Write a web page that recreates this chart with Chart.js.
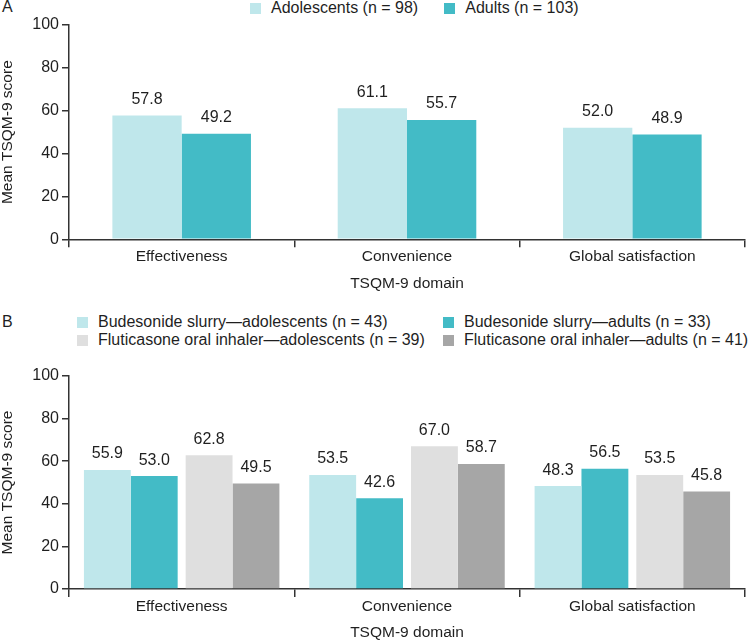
<!DOCTYPE html>
<html>
<head>
<meta charset="utf-8">
<script src="https://cdn.jsdelivr.net/npm/chart.js@4.4.1/dist/chart.umd.min.js"></script>
<style>
  html, body { margin: 0; padding: 0; background: #fff; overflow: hidden; }
  body { width: 749px; height: 640px; position: relative; font-family: "Liberation Sans", Arial, sans-serif; color: #1f1f1f; }
  canvas { position: absolute; left: 0; }
  #chartA { top: 0; }
  #chartB { top: 300px; }
  .panel-tag { position: absolute; left: 2px; font-size: 16px; line-height: 18px; }
  .legend { position: absolute; font-size: 16px; line-height: 18.3px; }
  .legend .item { display: flex; align-items: center; white-space: nowrap; }
  .legend .box { width: 11px; height: 11px; margin-right: 10px; flex: none; }
  #legendA { top: -1px; left: 250px; display: flex; gap: 26px; }
  #legendB { top: 313px; left: 77px; display: grid; grid-template-columns: 366px auto; }
</style>
</head>
<body>
<div class="panel-tag" style="top:-2px">A</div>
<div class="panel-tag" style="top:313px">B</div>
<div id="legendA" class="legend"></div>
<div id="legendB" class="legend"></div>
<canvas id="chartA" width="749" height="300"></canvas>
<canvas id="chartB" width="749" height="340"></canvas>
<script>
// data
const categories = ['Effectiveness', 'Convenience', 'Global satisfaction'];

const labelsA = ['Adolescents (n = 98)', 'Adults (n = 103)'];
const adolescents = [57.8, 61.1, 52.0];
const adults = [49.2, 55.7, 48.9];

const labelsB = [
  'Budesonide slurry—adolescents (n = 43)',
  'Budesonide slurry—adults (n = 33)',
  'Fluticasone oral inhaler—adolescents (n = 39)',
  'Fluticasone oral inhaler—adults (n = 41)'
];
const budesonideAdolescents = [55.9, 53.5, 48.3];
const budesonideAdults = [53.0, 42.6, 56.5];
const fluticasoneAdolescents = [62.8, 67.0, 53.5];
const fluticasoneAdults = [49.5, 58.7, 45.8];

const yMin = 0, yMax = 100, yStep = 20;
const xTitle = 'TSQM-9 domain';
const yTitle = 'Mean TSQM-9 score';

// styling
const FONT = '"Liberation Sans", Arial, sans-serif';
const TEXT = '#1f1f1f';
const AXIS = '#333333';
const colors = {
  lightTeal: '#bfe7eb',
  teal: '#43bbc6',
  lightGrey: '#dfdfdf',
  grey: '#a6a6a6'
};

// value labels above each bar
const valueLabels = {
  id: 'valueLabels',
  afterDatasetsDraw(chart) {
    const ctx = chart.ctx;
    ctx.save();
    ctx.font = '16px ' + FONT;
    ctx.fillStyle = TEXT;
    ctx.textAlign = 'center';
    ctx.textBaseline = 'middle';
    chart.data.datasets.forEach((ds, i) => {
      chart.getDatasetMeta(i).data.forEach((bar, j) => {
        ctx.fillText(ds.data[j].toFixed(1), bar.x, bar.y - 16);
      });
    });
    ctx.restore();
  }
};

// small gap between the budesonide pair and the fluticasone pair
const pairGap = {
  id: 'pairGap',
  afterDatasetsUpdate(chart, args, opts) {
    if (!opts.shift) return;
    chart.data.datasets.forEach((ds, i) => {
      const s = i < 2 ? -opts.shift : opts.shift;
      chart.getDatasetMeta(i).data.forEach(bar => { bar.x += s; });
    });
  }
};

function makeOptions(pad, catPct, shift) {
  return {
    responsive: false,
    animation: false,
    events: [],
    layout: { padding: pad },
    plugins: {
      legend: { display: false },
      tooltip: { enabled: false },
      pairGap: { shift }
    },
    datasets: { bar: { categoryPercentage: catPct, barPercentage: 1, borderWidth: 0 } },
    scales: {
      x: {
        grid: { drawOnChartArea: false, offset: true, tickLength: 8, color: AXIS, lineWidth: 1.5 },
        border: { color: AXIS, width: 1.5 },
        ticks: { padding: 0, color: TEXT, font: { family: FONT, size: 15.5 } },
        title: {
          display: true, text: xTitle, color: TEXT,
          font: { family: FONT, size: 15.5, lineHeight: 1 },
          padding: { top: pad.titleTop, bottom: 0 }
        }
      },
      y: {
        min: yMin, max: yMax,
        afterFit(scale) { scale.width = 69; },
        grid: { drawOnChartArea: false, tickLength: 7, color: AXIS, lineWidth: 1.5 },
        border: { color: AXIS, width: 1.5 },
        ticks: { stepSize: yStep, padding: 3, color: TEXT, font: { family: FONT, size: 16 } },
        title: {
          display: true, text: yTitle, color: TEXT,
          font: { family: FONT, size: 15.5, lineHeight: 1 },
          padding: { top: 0, bottom: 0 }
        }
      }
    }
  };
}

function buildLegend(el, datasets) {
  el.innerHTML = datasets.map(ds =>
    `<div class="item"><span class="box" style="background:${ds.backgroundColor}"></span>${ds.label}</div>`
  ).join('');
}

const dataA = {
  labels: categories,
  datasets: [
    { label: labelsA[0], data: adolescents, backgroundColor: colors.lightTeal },
    { label: labelsA[1], data: adults, backgroundColor: colors.teal }
  ]
};
const optsA = makeOptions({ top: 25, right: 4, left: 0, bottom: 9, titleTop: 9.6 }, 0.615, 0);
new Chart(document.getElementById('chartA'), { type: 'bar', data: dataA, options: optsA, plugins: [valueLabels, pairGap] });
buildLegend(document.getElementById('legendA'), dataA.datasets);

const dataB = {
  labels: categories,
  datasets: [
    { label: labelsB[0], data: budesonideAdolescents, backgroundColor: colors.lightTeal },
    { label: labelsB[1], data: budesonideAdults, backgroundColor: colors.teal },
    { label: labelsB[2], data: fluticasoneAdolescents, backgroundColor: colors.lightGrey },
    { label: labelsB[3], data: fluticasoneAdults, backgroundColor: colors.grey }
  ]
};
const optsB = makeOptions({ top: 76, right: 4, left: 0, bottom: 0, titleTop: 8.9 }, 0.832, 4);
new Chart(document.getElementById('chartB'), { type: 'bar', data: dataB, options: optsB, plugins: [valueLabels, pairGap] });
buildLegend(document.getElementById('legendB'), dataB.datasets);
</script>
</body>
</html>
